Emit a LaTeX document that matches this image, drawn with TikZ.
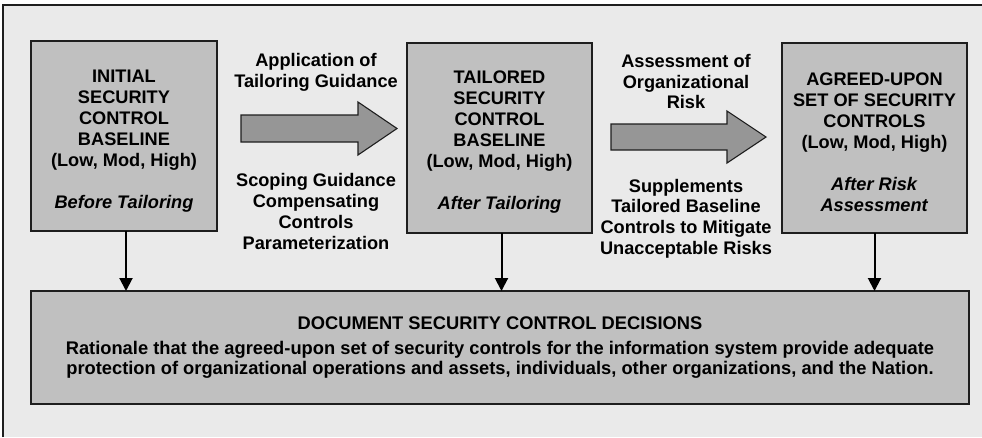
\documentclass[tikz,border=0pt]{standalone}
\usepackage{fontspec}
\setmainfont{Liberation Sans}
\usetikzlibrary{arrows.meta}
\definecolor{bgc}{HTML}{EAEAEA}
\definecolor{boxc}{HTML}{C0C0C0}
\definecolor{arrc}{HTML}{969696}
\definecolor{edgec}{HTML}{1E1E1E}
\tikzset{
  card/.style={draw=edgec, line width=1.3pt, fill=boxc, inner sep=0pt, outer sep=0pt},
  boxtext/.style={align=center, font=\bfseries\fontsize{18.2}{21}\selectfont, inner sep=0pt},
  lbltext/.style={align=center, font=\bfseries\fontsize{18.2}{20.7}\selectfont, inner sep=0pt},
  bottext/.style={align=center, font=\bfseries\fontsize{18.3}{20}\selectfont, inner sep=0pt},
  bigarrow/.style={draw=edgec, line width=1.1pt, fill=arrc, line join=miter},
  down/.style={draw=black, line width=2pt, -{Triangle[width=13pt,length=13pt]}},
}
\begin{document}
\begin{tikzpicture}[x=1pt,y=-1pt]
\useasboundingbox (0,0) rectangle (982,437);
\fill[white] (0,0) rectangle (982,437);
\fill[bgc] (3,5) rectangle (982,437);
\draw[edgec, line width=1.2pt] (3,437) -- (3,5) -- (982,5);

% top boxes
\node[card, minimum width=186pt, minimum height=190pt] (box1) at (124,136) {};
\node[card, minimum width=185pt, minimum height=190pt] (box2) at (499.5,138) {};
\node[card, minimum width=185pt, minimum height=190pt] (box3) at (874.5,138) {};

\node[boxtext] (t1) at (124,141) {INITIAL\\SECURITY\\CONTROL\\BASELINE\\(Low, Mod, High)\\[21pt]\textit{Before Tailoring}};
\node[boxtext] (t2) at (499.5,142.5) {TAILORED\\SECURITY\\CONTROL\\BASELINE\\(Low, Mod, High)\\[21pt]\textit{After Tailoring}};
\node[boxtext] (t3) at (874.5,142.5) {AGREED-UPON\\SET OF SECURITY\\CONTROLS\\(Low, Mod, High)\\[21pt]\textit{After Risk}\\\textit{Assessment}};

% bottom box
\node[card, minimum width=938pt, minimum height=113pt] (bot) at (500,347.5) {};
\node[bottext] (bt) at (500,323) {DOCUMENT SECURITY CONTROL DECISIONS};
\node[bottext] (bd) at (500,360) {Rationale that the agreed-upon set of security controls for the information system provide adequate\\protection of organizational operations and assets, individuals, other organizations, and the Nation.};

% block arrows
\draw[bigarrow] (241,115) -- (358,115) -- (358,102) -- (397,128.5) -- (358,155) -- (358,142) -- (241,142) -- cycle;
\draw[bigarrow] (611,124) -- (727,124) -- (727,111) -- (766,137) -- (727,163) -- (727,150) -- (611,150) -- cycle;

% labels
\node[lbltext] (l1) at (316,72) {Application of\\Tailoring Guidance};
\node[lbltext] (l2) at (316,211.5) {Scoping Guidance\\Compensating\\Controls\\Parameterization};
\node[lbltext] (l3) at (686,81.5) {Assessment of\\Organizational\\Risk};
\node[lbltext] (l4) at (686,218.5) {Supplements\\Tailored Baseline\\Controls to Mitigate\\Unacceptable Risks};

% down arrows
\draw[down] ([xshift=2pt]box1.south) -- ([xshift=2pt]box1.south |- bot.north);
\draw[down] ([xshift=2pt]box2.south) -- ([xshift=2pt]box2.south |- bot.north);
\draw[down] (box3.south) -- (box3.south |- bot.north);
\end{tikzpicture}
\end{document}
